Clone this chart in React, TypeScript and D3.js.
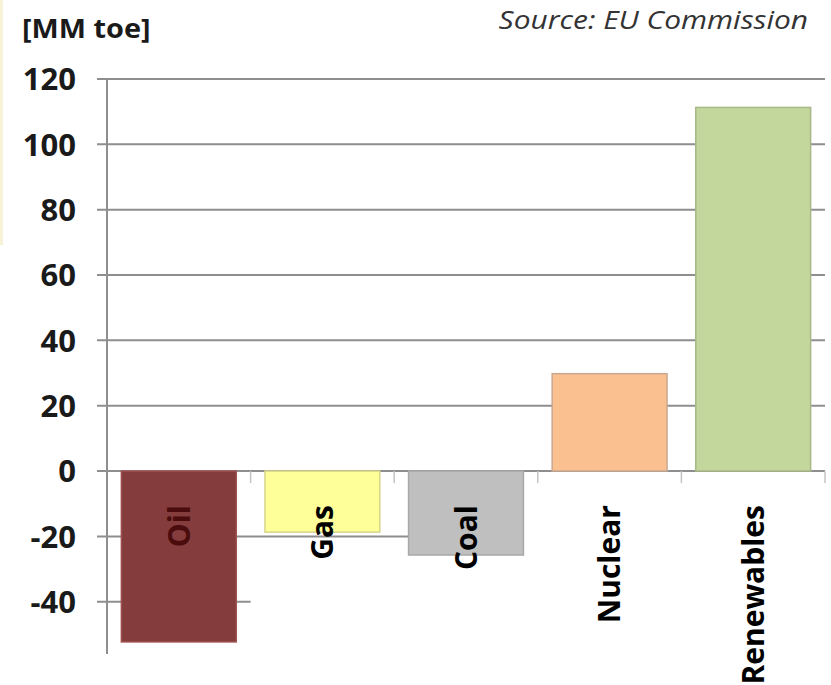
import { useRef, useEffect } from 'react';
import * as d3 from 'd3';

// Change in EU energy consumption by source [MM toe]
const categories = ['Oil', 'Gas', 'Coal', 'Nuclear', 'Renewables'];
const values = [-52.3, -18.7, -25.7, 29.8, 111.3];
const fills = ['#843c3c', '#ffff99', '#bfbfbf', '#fac090', '#c3d69b'];
const strokes = ['#a05050', '#d6d68a', '#a8a8a8', '#c8a890', '#a8b888'];
const labelColors = ['#4a0c0c', '#000000', '#000000', '#000000', '#000000'];
const yTicks = [-40, -20, 0, 20, 40, 60, 80, 100, 120];

const unitLabel = '[MM toe]';
const sourceLabel = 'Source: EU Commission';

const WIDTH = 831;
const HEIGHT = 685;
const FONT = '"Open Sans", Lato, sans-serif';

export default function App() {
  const svgRef = useRef<SVGSVGElement>(null);

  useEffect(() => {
    if (!svgRef.current) return;
    const svg = d3.select(svgRef.current);
    svg.selectAll('*').remove();

    const left = 107;
    const right = 825;
    const top = 79;
    const pxPerUnit = 3.267;
    const zeroY = top + 120 * pxPerUnit;

    const x = d3
      .scaleBand<string>()
      .domain(categories)
      .range([left, right])
      .paddingInner(0.2)
      .paddingOuter(0.1);

    const y = d3
      .scaleLinear()
      .domain([-56, 120])
      .range([zeroY + 56 * pxPerUnit, top]);

    const step = x.step();
    const bandStart = (c: string) => x(c)! - (step - x.bandwidth()) / 2;

    // faint strip at the left edge of the original picture
    svg
      .append('rect')
      .attr('x', 0)
      .attr('y', 0)
      .attr('width', 3)
      .attr('height', 245)
      .attr('fill', '#f6f3d6');

    // gridlines; negative ones are hidden behind the label area
    // except where a bar reaches that far
    const grid = svg.append('g');
    yTicks.forEach((t) => {
      let x2 = right;
      if (t < 0) {
        let lastIdx = 0;
        values.forEach((v, i) => {
          if (v <= t) lastIdx = i;
        });
        x2 =
          t === -40
            ? bandStart(categories[lastIdx]) + step
            : x(categories[lastIdx])! + x.bandwidth();
      }
      grid
        .append('line')
        .attr('x1', left - 10)
        .attr('x2', x2)
        .attr('y1', y(t))
        .attr('y2', y(t))
        .attr('stroke', '#8e8e8e')
        .attr('stroke-width', 2);
    });

    // y axis line
    svg
      .append('line')
      .attr('x1', left)
      .attr('x2', left)
      .attr('y1', y(120))
      .attr('y2', y(-56))
      .attr('stroke', '#8e8e8e')
      .attr('stroke-width', 2);

    // category ticks on zero line
    categories.forEach((c) => {
      const tx = bandStart(c) + step;
      svg
        .append('line')
        .attr('x1', tx)
        .attr('x2', tx)
        .attr('y1', zeroY)
        .attr('y2', zeroY + 12)
        .attr('stroke', '#c4c4c4')
        .attr('stroke-width', 1.5);
    });

    // bars
    svg
      .append('g')
      .selectAll('rect')
      .data(values)
      .enter()
      .append('rect')
      .attr('x', (_, i) => x(categories[i])!)
      .attr('width', x.bandwidth())
      .attr('y', (d) => y(Math.max(0, d)))
      .attr('height', (d) => Math.abs(y(d) - y(0)))
      .attr('fill', (_, i) => fills[i])
      .attr('stroke', (_, i) => strokes[i])
      .attr('stroke-width', 1.5);

    // y tick labels
    svg
      .append('g')
      .selectAll('text')
      .data(yTicks)
      .enter()
      .append('text')
      .attr('x', 76)
      .attr('y', (d) => y(d))
      .attr('dy', '0.36em')
      .attr('text-anchor', 'end')
      .attr('font-family', FONT)
      .attr('font-weight', 700)
      .attr('font-size', '31px')
      .attr('fill', '#1a1a1a')
      .text((d) => d);

    // category labels, rotated
    svg
      .append('g')
      .selectAll('text')
      .data(categories)
      .enter()
      .append('text')
      .attr(
        'transform',
        (d) => `translate(${x(d)! + x.bandwidth() / 2}, ${zeroY + 34}) rotate(-90)`
      )
      .attr('dy', '0.36em')
      .attr('text-anchor', 'end')
      .attr('font-family', FONT)
      .attr('font-weight', 700)
      .attr('font-size', '30px')
      .attr('fill', (_, i) => labelColors[i])
      .text((d) => d);

    // unit label
    svg
      .append('text')
      .attr('transform', 'translate(22, 38) scale(1.07, 1)')
      .attr('font-family', FONT)
      .attr('font-weight', 700)
      .attr('font-size', '27px')
      .attr('fill', '#1a1a1a')
      .text(unitLabel);

    // source
    svg
      .append('text')
      .attr('transform', 'translate(808, 29) scale(1.15, 1)')
      .attr('text-anchor', 'end')
      .attr('font-family', FONT)
      .attr('font-style', 'italic')
      .attr('font-size', '26px')
      .attr('fill', '#333333')
      .text(sourceLabel);
  }, []);

  return (
    <svg
      ref={svgRef}
      width={WIDTH}
      height={HEIGHT}
      style={{ position: 'absolute', left: 0, top: 0, background: '#ffffff' }}
    />
  );
}
